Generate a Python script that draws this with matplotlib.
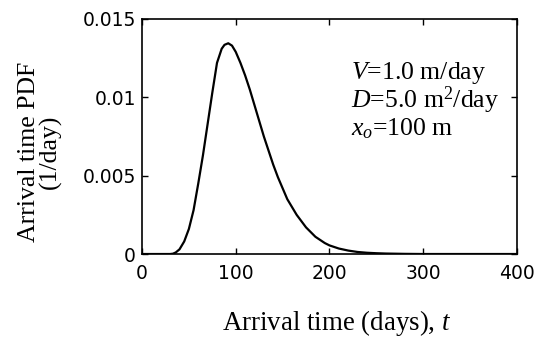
import matplotlib.pyplot as plt

serif = 'Liberation Serif'
plt.rcParams['mathtext.fontset'] = 'custom'
plt.rcParams['mathtext.rm'] = serif
plt.rcParams['mathtext.it'] = serif + ':italic'

# arrival time (days) and PDF (1/day)
t_days = [0, 20, 30, 33, 36, 40, 45, 50, 55, 60, 65, 70, 75, 80, 85, 88,
          92, 96, 100, 105, 110, 115, 120, 125, 130, 135, 140, 145, 150,
          155, 160, 165, 170, 175, 180, 185, 190, 195, 200, 210, 220, 230,
          240, 250, 260, 270, 280, 300, 400]
pdf = [0, 0, 0, 0.00002, 0.0001, 0.0003, 0.0008, 0.0016, 0.0028, 0.0045,
       0.0063, 0.0083, 0.0103, 0.0122, 0.0131, 0.01335,
       0.01345, 0.0133, 0.0129, 0.0122, 0.0114, 0.0105, 0.0095, 0.0085,
       0.0075, 0.0066, 0.0057, 0.0049, 0.0042,
       0.0035, 0.0030, 0.0025, 0.0021, 0.0017, 0.0014, 0.0011, 0.0009,
       0.0007, 0.00055, 0.00035, 0.00022, 0.00013,
       0.00008, 0.00005, 0.00003, 0.00002, 0.00001, 0, 0]

xticks = [0, 100, 200, 300, 400]
yticks = [0, 0.005, 0.01, 0.015]
yticklabels = ['0', '0.005', '0.01', '0.015']

fig = plt.figure(figsize=(5.39, 3.39), dpi=100)
ax = fig.add_axes([0.2635, 0.2507, 0.6955, 0.6933])
ax.plot(t_days, pdf, color='black', linewidth=1.6)

ax.set_xlim(0, 400)
ax.set_ylim(0, 0.015)
ax.set_xticks(xticks)
ax.set_yticks(yticks)
ax.set_yticklabels(yticklabels)
ax.tick_params(direction='in', top=True, right=True, length=4, width=1,
               labelsize=13.5)
ax.tick_params(axis='x', pad=7)
ax.tick_params(axis='y', pad=4.5)
for lab in ax.get_xticklabels() + ax.get_yticklabels():
    lab.set_family('DejaVu Sans')
for sp in ax.spines.values():
    sp.set_linewidth(1.2)

ax.set_xlabel('Arrival time (days), $t$', fontfamily=serif,
              fontsize=19.4, labelpad=18)
ax.xaxis.label.set_x(0.52)
ax.set_ylabel('Arrival time PDF\n(1/day)', fontfamily=serif, fontsize=18.5,
              linespacing=0.95)
ax.yaxis.set_label_coords(-0.213, 0.434)

ax.text(223, 0.0112, '$V$=1.0 m/day', fontfamily=serif, fontsize=18.5)
ax.text(223, 0.0093, '$D$=5.0 m$^2$/day', fontfamily=serif, fontsize=18.5)
ax.text(223, 0.0076, '$x_o$=100 m', fontfamily=serif, fontsize=18.5)

fig.savefig('out.png', dpi=100)
